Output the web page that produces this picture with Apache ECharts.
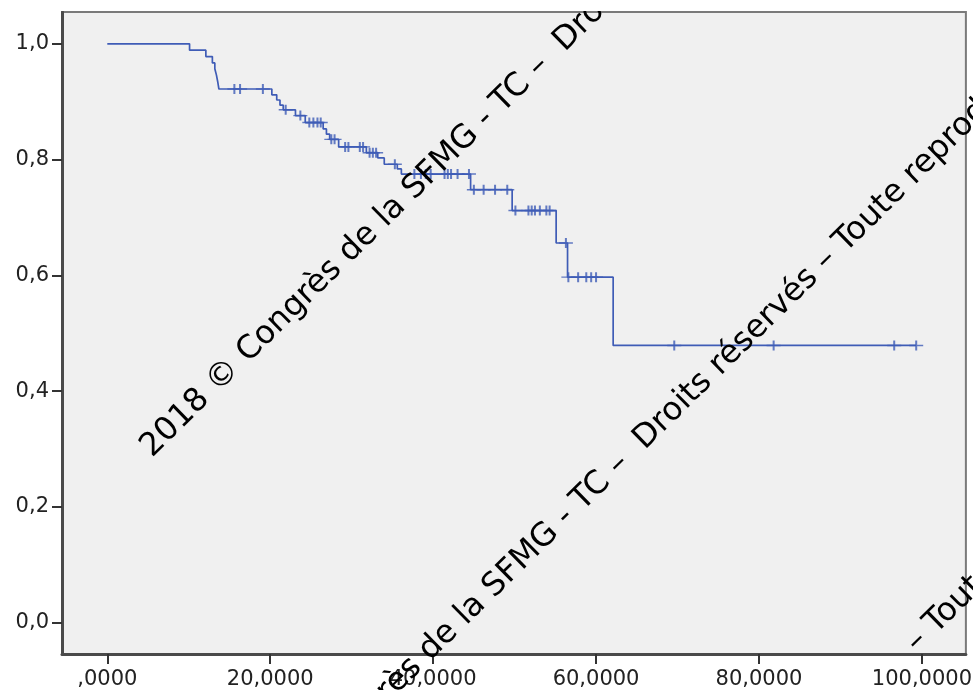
<!DOCTYPE html>
<html>
<head>
<meta charset="utf-8">
<script src="https://cdn.jsdelivr.net/npm/echarts@6/dist/echarts.min.js"></script>
<style>html,body{margin:0;padding:0;background:#fff}#c{width:975px;height:690px}</style>
</head>
<body>
<div id="c"></div>
<script>
// Kaplan-Meier step function: time of each event and survival after it
const eventTimes = [10.1, 12.1, 12.9, 13.2, 13.4, 13.55, 13.7, 20.2, 20.8, 21.2, 21.6, 23.1, 24.3, 26.5, 26.9, 27.3, 28.4, 31.8, 33.2, 34.0, 35.6, 36.1, 44.6, 49.7, 55.1, 56.5, 62.1];
const eventSurv  = [0.989, 0.978, 0.967, 0.957, 0.946, 0.935, 0.922, 0.912, 0.903, 0.894, 0.886, 0.876, 0.864, 0.853, 0.844, 0.835, 0.822, 0.812, 0.803, 0.792, 0.784, 0.775, 0.748, 0.712, 0.656, 0.597, 0.479];
// censored observations (times)
const censorTimes = [15.6, 16.3, 19.1, 21.9, 23.7, 24.8, 25.3, 25.8, 26.2, 27.5, 27.9, 29.2, 29.6, 31.0, 31.4, 32.2, 32.6, 33.0, 35.3, 37.7, 38.5, 39.1, 39.7, 41.4, 41.8, 42.2, 43.0, 44.4, 45.0, 46.2, 47.6, 49.1, 50.1, 51.7, 52.1, 52.5, 53.1, 53.9, 54.3, 56.3, 56.6, 57.8, 58.8, 59.4, 60.0, 69.6, 81.8, 96.6, 99.3];
const startTime = 0, startSurv = 1.0, endTime = 99.3;
const xTicks = [0, 20, 40, 60, 80, 100];
const yTicks = [0, 0.2, 0.4, 0.6, 0.8, 1.0];
const watermark = '2018 \u00a9 Congr\u00e8s de la SFMG - TC \u2013  Droits r\u00e9serv\u00e9s \u2013 Toute reproduction interdite';
const watermarkTail = '\u2013 Toute reproduction interdite';

function survAt(t) {
  let s = startSurv;
  for (let i = 0; i < eventTimes.length; i++) if (t >= eventTimes[i]) s = eventSurv[i];
  return s;
}
const lineData = [[startTime, startSurv]];
eventTimes.forEach((t, i) => lineData.push([t, eventSurv[i]]));
lineData.push([endTime, survAt(endTime)]);
const censorData = censorTimes.map(t => [t, survAt(t)]);

const blue = '#3f5cb6';
const chart = echarts.init(document.getElementById('c'), null, {renderer: 'canvas'});
const wmFont = '32.3px "DejaVu Sans"';
const wmRot = 44.5 * Math.PI / 180;
const wm = (txt, x, y) => ({type: 'text', x: x, y: y, rotation: wmRot, z: 100, silent: true,
  style: {text: txt, font: wmFont, fill: '#000', align: 'left', verticalAlign: 'middle'}});
chart.setOption({
  animation: false,
  backgroundColor: '#ffffff',
  grid: {left: 62, top: 12, right: 3, bottom: 33, show: true, backgroundColor: '#f0f0f0', borderColor: '#7a7a7a', borderWidth: 2},
  xAxis: {
    type: 'value', min: -5.56, max: 105.4,
    axisLine: {show: true, onZero: false, lineStyle: {color: '#4a4a4a', width: 3}},
    axisTick: {show: true, length: 10, lineStyle: {color: '#333', width: 2}, customValues: xTicks},
    axisLabel: {customValues: xTicks, margin: 15, color: '#222', fontFamily: 'DejaVu Sans', fontSize: 21,
      formatter: v => (v === 0 ? '' : String(v)) + ',0000'},
    splitLine: {show: false}
  },
  yAxis: {
    type: 'value', min: -0.054, max: 1.055,
    axisLine: {show: true, onZero: false, lineStyle: {color: '#4a4a4a', width: 3}},
    axisTick: {show: true, length: 10, lineStyle: {color: '#333', width: 2}, customValues: yTicks},
    axisLabel: {customValues: yTicks, margin: 13, color: '#222', fontFamily: 'DejaVu Sans', fontSize: 21,
      formatter: v => v.toFixed(1).replace('.', ',')},
    splitLine: {show: false}
  },
  series: [
    {type: 'line', data: lineData, step: 'end', showSymbol: false, symbol: 'none',
      lineStyle: {color: blue, width: 1.7}, z: 3},
    {type: 'scatter', data: censorData, symbol: 'path://M0,5L14,5M7,0L7,10', symbolSize: [14, 10],
      itemStyle: {color: 'rgba(0,0,0,0)', borderColor: blue, borderWidth: 1.7}, z: 4}
  ],
  graphic: [
    wm(watermark, 146, 452),
    wm(watermark, 226, 850),
    wm(watermarkTail, 911, 647),
    {type: 'rect', shape: {x: 0, y: 0, width: 975, height: 11}, style: {fill: '#fff'}, z: 101, silent: true},
    {type: 'rect', shape: {x: 973, y: 0, width: 2, height: 690}, style: {fill: '#fff'}, z: 101, silent: true}
  ]
});
</script>
</body>
</html>
